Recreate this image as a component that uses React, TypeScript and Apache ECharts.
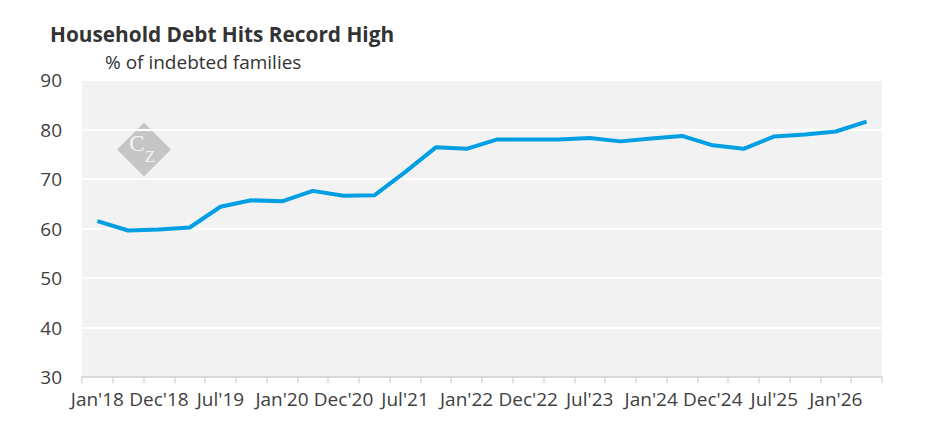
import React, { useEffect, useRef } from "react";
import * as echarts from "echarts";

const categories = [
  "Jan'18", "Jun'18", "Dec'18", "Mar'19", "Jul'19", "Oct'19", "Jan'20", "Jun'20",
  "Dec'20", "Mar'21", "Jul'21", "Oct'21", "Jan'22", "Jun'22", "Dec'22", "Mar'23",
  "Jul'23", "Oct'23", "Jan'24", "Jun'24", "Dec'24", "Mar'25", "Jul'25", "Oct'25",
  "Jan'26", "Apr'26",
];

const indebtedShare = [
  61.5, 59.6, 59.8, 60.2, 64.4, 65.7, 65.5, 67.6, 66.6, 66.7,
  71.4, 76.4, 76.1, 78.0, 78.0, 78.0, 78.3, 77.6, 78.2, 78.7,
  76.8, 76.1, 78.6, 79.0, 79.6, 81.6,
];

const yTicks = { min: 30, max: 90, interval: 10 };

const titleText = "Household Debt Hits Record High";
const subtitleText = "% of indebted families";

const FONT = "'Open Sans', 'Noto Sans', sans-serif";

export default function App() {
  const ref = useRef<HTMLDivElement>(null);

  useEffect(() => {
    if (!ref.current) return;
    const chart = echarts.init(ref.current, undefined, { renderer: "svg" });
    chart.setOption({
      animation: false,
      backgroundColor: "#ffffff",
      title: [
        {
          text: titleText,
          left: 50,
          top: 23,
          padding: 0,
          textStyle: { fontFamily: FONT, fontSize: 20.8, fontWeight: "bold", color: "#333333" },
        },
        {
          text: subtitleText,
          left: 105,
          top: 52,
          padding: 0,
          textStyle: { fontFamily: FONT, fontSize: 19, fontWeight: "normal", color: "#333333" },
        },
      ],
      grid: {
        left: 82,
        right: 63,
        top: 80,
        bottom: 66,
        show: true,
        backgroundColor: "#f2f2f2",
        borderWidth: 0,
      },
      xAxis: {
        type: "category",
        data: categories,
        boundaryGap: true,
        axisLine: { show: true, lineStyle: { color: "#d9d9d9", width: 2 } },
        axisTick: { show: true, interval: 0, length: 6, lineStyle: { color: "#d9d9d9", width: 1.5 } },
        axisLabel: {
          interval: 1,
          margin: 12,
          color: "#404040",
          fontFamily: FONT,
          fontSize: 19,
        },
        splitLine: { show: false },
      },
      yAxis: {
        type: "value",
        min: yTicks.min,
        max: yTicks.max,
        interval: yTicks.interval,
        axisLine: { show: false },
        axisTick: { show: false },
        axisLabel: { margin: 20, color: "#404040", fontFamily: FONT, fontSize: 19 },
        splitLine: { show: true, lineStyle: { color: "#ffffff", width: 2 } },
      },
      series: [
        {
          type: "line",
          data: indebtedShare,
          showSymbol: false,
          symbol: "none",
          lineStyle: { color: "#009fe3", width: 4 },
          itemStyle: { color: "#009fe3" },
          z: 5,
        },
      ],
      graphic: [
        {
          type: "group",
          x: 144,
          y: 149.5,
          z: 3,
          children: [
            {
              type: "polygon",
              shape: { points: [[0, -27], [27, 0], [0, 27], [-27, 0]] },
              style: { fill: "#c6c6c6" },
            },
            {
              type: "text",
              x: -7,
              y: -6.5,
              style: {
                text: "C",
                fill: "#f4f4f4",
                fontFamily: "'Liberation Serif', 'DejaVu Serif', serif",
                fontSize: 23,
                align: "center",
                verticalAlign: "middle",
              },
            },
            {
              type: "text",
              x: 6,
              y: 6.5,
              style: {
                text: "Z",
                fill: "#f4f4f4",
                fontFamily: "'Liberation Serif', 'DejaVu Serif', serif",
                fontSize: 17,
                align: "center",
                verticalAlign: "middle",
              },
            },
          ],
        },
      ],
    });
    return () => chart.dispose();
  }, []);

  return (
    <div
      ref={ref}
      style={{ position: "fixed", left: 0, top: 0, width: 945, height: 443 }}
    />
  );
}
